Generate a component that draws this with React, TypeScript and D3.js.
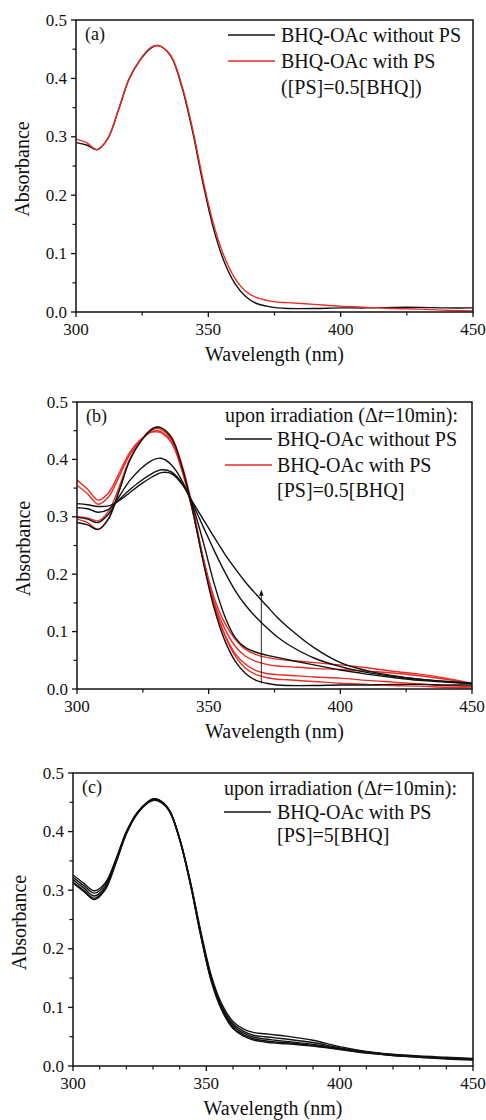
import React from 'react';
import * as d3 from 'd3';

// wavelength grid (nm) shared by every spectrum
const WL = [300, 304, 308, 312, 316, 320, 324, 328, 330, 332, 336, 340, 344, 348, 352, 356, 360, 364, 368, 372, 376, 380, 390, 400, 410, 420, 430, 440, 450];

// BHQ-OAc without PS (t = 0, 10, 20, 30 min)
const noPS0 = [0.290, 0.286, 0.278, 0.297, 0.345, 0.398, 0.430, 0.451, 0.456, 0.455, 0.437, 0.385, 0.310, 0.220, 0.142, 0.086, 0.049, 0.027, 0.015, 0.010, 0.007, 0.006, 0.006, 0.007, 0.007, 0.008, 0.008, 0.007, 0.007];
const noPS1 = [0.299, 0.296, 0.290, 0.305, 0.335, 0.363, 0.383, 0.397, 0.401, 0.402, 0.390, 0.362, 0.318, 0.255, 0.185, 0.128, 0.090, 0.072, 0.064, 0.059, 0.055, 0.051, 0.042, 0.033, 0.026, 0.020, 0.015, 0.012, 0.009];
const noPS2 = [0.316, 0.314, 0.308, 0.313, 0.330, 0.347, 0.362, 0.374, 0.379, 0.382, 0.378, 0.358, 0.322, 0.282, 0.242, 0.205, 0.172, 0.146, 0.125, 0.107, 0.091, 0.078, 0.054, 0.039, 0.029, 0.022, 0.017, 0.013, 0.010];
const noPS3 = [0.323, 0.321, 0.318, 0.319, 0.328, 0.342, 0.356, 0.368, 0.373, 0.377, 0.375, 0.356, 0.325, 0.295, 0.265, 0.236, 0.210, 0.186, 0.165, 0.145, 0.125, 0.108, 0.072, 0.046, 0.032, 0.023, 0.017, 0.013, 0.010];

// BHQ-OAc with PS, [PS]=0.5[BHQ]
const halfPS0 = [0.296, 0.290, 0.278, 0.297, 0.346, 0.399, 0.431, 0.452, 0.456, 0.455, 0.438, 0.388, 0.315, 0.226, 0.150, 0.095, 0.058, 0.036, 0.025, 0.020, 0.017, 0.016, 0.013, 0.010, 0.008, 0.006, 0.005, 0.003, 0.002];
const halfPS1 = [0.300, 0.298, 0.293, 0.310, 0.352, 0.400, 0.430, 0.450, 0.454, 0.452, 0.434, 0.383, 0.310, 0.222, 0.146, 0.096, 0.062, 0.043, 0.032, 0.027, 0.025, 0.024, 0.021, 0.019, 0.015, 0.012, 0.009, 0.006, 0.004];
const halfPS2 = [0.355, 0.340, 0.322, 0.335, 0.370, 0.408, 0.432, 0.448, 0.450, 0.448, 0.430, 0.380, 0.308, 0.224, 0.153, 0.106, 0.075, 0.057, 0.048, 0.043, 0.040, 0.039, 0.036, 0.034, 0.031, 0.028, 0.023, 0.017, 0.009];
const halfPS3 = [0.364, 0.348, 0.329, 0.342, 0.376, 0.412, 0.434, 0.447, 0.448, 0.446, 0.428, 0.378, 0.308, 0.227, 0.160, 0.116, 0.087, 0.069, 0.060, 0.055, 0.052, 0.050, 0.046, 0.042, 0.037, 0.031, 0.026, 0.019, 0.010];

// BHQ-OAc with PS, [PS]=5[BHQ]
const fivePS0 = [0.326, 0.312, 0.299, 0.312, 0.352, 0.400, 0.432, 0.450, 0.455, 0.454, 0.437, 0.388, 0.315, 0.228, 0.152, 0.104, 0.076, 0.063, 0.057, 0.055, 0.053, 0.051, 0.044, 0.033, 0.025, 0.020, 0.017, 0.015, 0.013];
const fivePS1 = [0.322, 0.308, 0.295, 0.309, 0.350, 0.399, 0.432, 0.451, 0.456, 0.455, 0.438, 0.388, 0.314, 0.226, 0.149, 0.100, 0.072, 0.059, 0.052, 0.050, 0.048, 0.046, 0.040, 0.031, 0.024, 0.019, 0.016, 0.014, 0.012];
const fivePS2 = [0.318, 0.304, 0.290, 0.305, 0.348, 0.398, 0.431, 0.450, 0.455, 0.454, 0.437, 0.387, 0.312, 0.223, 0.146, 0.097, 0.069, 0.056, 0.049, 0.046, 0.044, 0.042, 0.037, 0.030, 0.024, 0.019, 0.016, 0.013, 0.012];
const fivePS3 = [0.314, 0.300, 0.286, 0.302, 0.346, 0.397, 0.430, 0.449, 0.454, 0.453, 0.436, 0.386, 0.311, 0.221, 0.144, 0.095, 0.066, 0.053, 0.046, 0.043, 0.041, 0.040, 0.035, 0.029, 0.023, 0.018, 0.015, 0.013, 0.011];
const fivePS4 = [0.312, 0.298, 0.284, 0.300, 0.345, 0.396, 0.430, 0.449, 0.453, 0.452, 0.436, 0.386, 0.310, 0.220, 0.142, 0.093, 0.064, 0.051, 0.044, 0.041, 0.039, 0.038, 0.034, 0.028, 0.022, 0.018, 0.015, 0.012, 0.010];

const X_TICKS = [300, 350, 400, 450];
const Y_TICKS = [0, 0.1, 0.2, 0.3, 0.4, 0.5];
const Y_MINOR = [0.05, 0.15, 0.25, 0.35, 0.45];

// arrow in (b): wavelength and absorbance range
const ARROW_WL = 370;
const ARROW_FROM = 0.01;
const ARROW_TO = 0.173;

const BLACK = '#111';
const RED = '#ec2a24';
const FONT = '"Liberation Serif", "Times New Roman", Times, serif';

type Box = { left: number; right: number; top: number; bottom: number };
type Series = { values: number[]; color: string };
type LegendRow = { text: React.ReactNode; color?: string; dy: number };

function Panel({ id, box, series, tag, legend, legendX, lineX, minorStep, arrow }: {
  id: string; box: Box; series: Series[]; tag: string; legend: LegendRow[];
  legendX: number; lineX: [number, number]; minorStep: number; arrow?: boolean;
}) {
  const x = d3.scaleLinear().domain([300, 450]).range([box.left, box.right]);
  const y = d3.scaleLinear().domain([0, 0.5]).range([box.bottom, box.top]);
  const line = d3.line<number>()
    .x((_, i) => x(WL[i]))
    .y(d => y(d))
    .curve(d3.curveCatmullRom.alpha(0.5));
  const xMinor = d3.range(300, 451, minorStep).filter(v => !X_TICKS.includes(v));
  const fmt = d3.format('.1f');
  const midX = (box.left + box.right) / 2;
  const midY = (box.top + box.bottom) / 2;

  return (
    <g>
      <defs>
        <clipPath id={`clip-${id}`}>
          <rect x={box.left} y={box.top} width={box.right - box.left} height={box.bottom - box.top} />
        </clipPath>
      </defs>
      <g clipPath={`url(#clip-${id})`}>
        {series.map((s, i) => (
          <path key={i} d={line(s.values) || ''} fill="none" stroke={s.color} strokeWidth={1.4} />
        ))}
      </g>
      {arrow && (
        <g>
          <line x1={x(ARROW_WL)} x2={x(ARROW_WL)} y1={y(ARROW_FROM)} y2={y(ARROW_TO) + 4} stroke={BLACK} strokeWidth={0.9} />
          <path d={`M${x(ARROW_WL)},${y(ARROW_TO)} l-2.3,6 l4.6,0 Z`} fill={BLACK} />
        </g>
      )}
      <rect x={box.left} y={box.top} width={box.right - box.left} height={box.bottom - box.top}
        fill="none" stroke={BLACK} strokeWidth={1.5} />
      {X_TICKS.map(t => (
        <g key={t}>
          <line x1={x(t)} x2={x(t)} y1={box.bottom} y2={box.bottom + 5} stroke={BLACK} strokeWidth={1.3} />
          <text x={x(t)} y={box.bottom + 23} textAnchor="middle" fontSize={17}>{t}</text>
        </g>
      ))}
      {xMinor.map(t => (
        <line key={t} x1={x(t)} x2={x(t)} y1={box.bottom} y2={box.bottom + 3.5} stroke={BLACK} strokeWidth={1.2} />
      ))}
      {Y_TICKS.map(t => (
        <g key={t}>
          <line x1={box.left - 5} x2={box.left} y1={y(t)} y2={y(t)} stroke={BLACK} strokeWidth={1.3} />
          <text x={box.left - 9} y={y(t) + 5.5} textAnchor="end" fontSize={17}>{fmt(t)}</text>
        </g>
      ))}
      {Y_MINOR.map(t => (
        <line key={t} x1={box.left - 3.5} x2={box.left} y1={y(t)} y2={y(t)} stroke={BLACK} strokeWidth={1.2} />
      ))}
      <text x={midX} y={box.bottom + 49} textAnchor="middle" fontSize={20}>Wavelength (nm)</text>
      <text transform={`translate(${box.left - 47},${midY + 3}) rotate(-90)`} textAnchor="middle" fontSize={20}>Absorbance</text>
      <text x={box.left + 9} y={box.top + 20} fontSize={18}>{tag}</text>
      {legend.map((row, i) => (
        <g key={i}>
          {row.color && (
            <line x1={lineX[0]} x2={lineX[1]} y1={box.top + row.dy - 7} y2={box.top + row.dy - 7} stroke={row.color} strokeWidth={1.4} />
          )}
          <text x={row.color || i > 0 ? legendX : lineX[0]} y={box.top + row.dy} fontSize={20}>{row.text}</text>
        </g>
      ))}
    </g>
  );
}

const boxA: Box = { left: 76, right: 473, top: 20, bottom: 312 };
const boxB: Box = { left: 77, right: 472, top: 402, bottom: 689 };
const boxC: Box = { left: 73, right: 473, top: 773, bottom: 1066 };

const upon = (
  <>upon irradiation (Δ<tspan fontStyle="italic">t</tspan>=10min):</>
);

export default function App() {
  return (
    <svg width={486} height={1120} style={{ position: 'absolute', left: 0, top: 0, background: '#fff', fontFamily: FONT }}
      fontFamily={FONT} fill={BLACK}>
      <Panel id="a" box={boxA} tag="(a)" minorStep={25}
        series={[{ values: noPS0, color: BLACK }, { values: halfPS0, color: RED }]}
        lineX={[228, 275]} legendX={281}
        legend={[
          { text: 'BHQ-OAc without PS', color: BLACK, dy: 22 },
          { text: 'BHQ-OAc with PS', color: RED, dy: 48 },
          { text: '([PS]=0.5[BHQ])', dy: 74 },
        ]} />
      <Panel id="b" box={boxB} tag="(b)" minorStep={25} arrow
        series={[
          { values: halfPS0, color: RED }, { values: halfPS1, color: RED },
          { values: halfPS2, color: RED }, { values: halfPS3, color: RED },
          { values: noPS0, color: BLACK }, { values: noPS1, color: BLACK },
          { values: noPS2, color: BLACK }, { values: noPS3, color: BLACK },
        ]}
        lineX={[225, 272]} legendX={277}
        legend={[
          { text: upon, dy: 20 },
          { text: 'BHQ-OAc without PS', color: BLACK, dy: 44 },
          { text: 'BHQ-OAc with PS', color: RED, dy: 70 },
          { text: '[PS]=0.5[BHQ]', dy: 95 },
        ]} />
      <Panel id="c" box={boxC} tag="(c)" minorStep={10}
        series={[fivePS0, fivePS1, fivePS2, fivePS3, fivePS4].map(v => ({ values: v, color: BLACK }))}
        lineX={[224, 271]} legendX={277}
        legend={[
          { text: upon, dy: 22 },
          { text: 'BHQ-OAc with PS', color: BLACK, dy: 46 },
          { text: '[PS]=5[BHQ]', dy: 69 },
        ]} />
    </svg>
  );
}
